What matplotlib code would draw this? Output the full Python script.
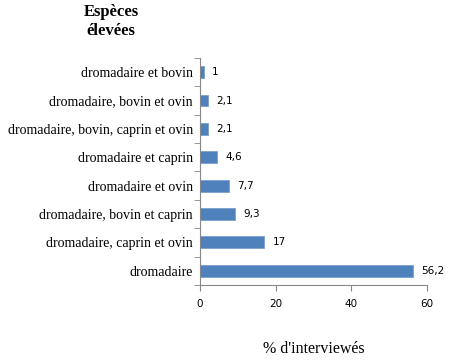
import matplotlib
matplotlib.use("Agg")
import matplotlib.pyplot as plt
import numpy as np

categories = ["dromadaire", "dromadaire, caprin et ovin", "dromadaire, bovin et caprin",
              "dromadaire et ovin", "dromadaire et caprin", "dromadaire, bovin, caprin et ovin",
              "dromadaire, bovin et ovin", "dromadaire et bovin"]
values = [56.2, 17, 9.3, 7.7, 4.6, 2.1, 2.1, 1]
labels = ["56,2", "17", "9,3", "7,7", "4,6", "2,1", "2,1", "1"]
xticks = [0, 20, 40, 60]

fig = plt.figure(figsize=(4.57, 3.61), dpi=100)
ax = fig.add_axes([0.4376, 0.2105, 0.4967, 0.629])
y = np.arange(len(categories))
ax.barh(y, values, height=0.42, color="#4F81BD", edgecolor="#7BA0CD", linewidth=0.6)
ax.set_xlim(0, 60)
ax.set_ylim(-0.5, len(categories) - 0.5)
ax.set_xticks(xticks)
ax.set_xticklabels([str(t) for t in xticks], fontsize=7.5, family="DejaVu Sans")
ax.set_yticks(y)
ax.set_yticklabels(categories, fontsize=10, family="Liberation Serif")
ax.tick_params(axis="y", length=0, pad=5)
ax.set_yticks(np.arange(-0.5, len(categories), 1), minor=True)
ax.tick_params(axis="y", which="minor", length=4, color="#888888", direction="out")
ax.tick_params(axis="x", length=4, color="#888888", direction="out", pad=6)
for s in ["top", "right"]:
    ax.spines[s].set_visible(False)
for s in ["left", "bottom"]:
    ax.spines[s].set_color("#888888")
for yi, v, l in zip(y, values, labels):
    ax.text(v + 2.2, yi, l, va="center", ha="left", fontsize=7.5, family="DejaVu Sans")
ax.set_xlabel("% d'interviewés", fontsize=11.5, family="Liberation Serif", labelpad=23)
fig.text(0.243, 0.94, "Espèces\nélevées", ha="center", va="center", fontsize=12,
         fontweight="bold", family="Liberation Serif", linespacing=1.25)
fig.savefig("out.png", dpi=100)
